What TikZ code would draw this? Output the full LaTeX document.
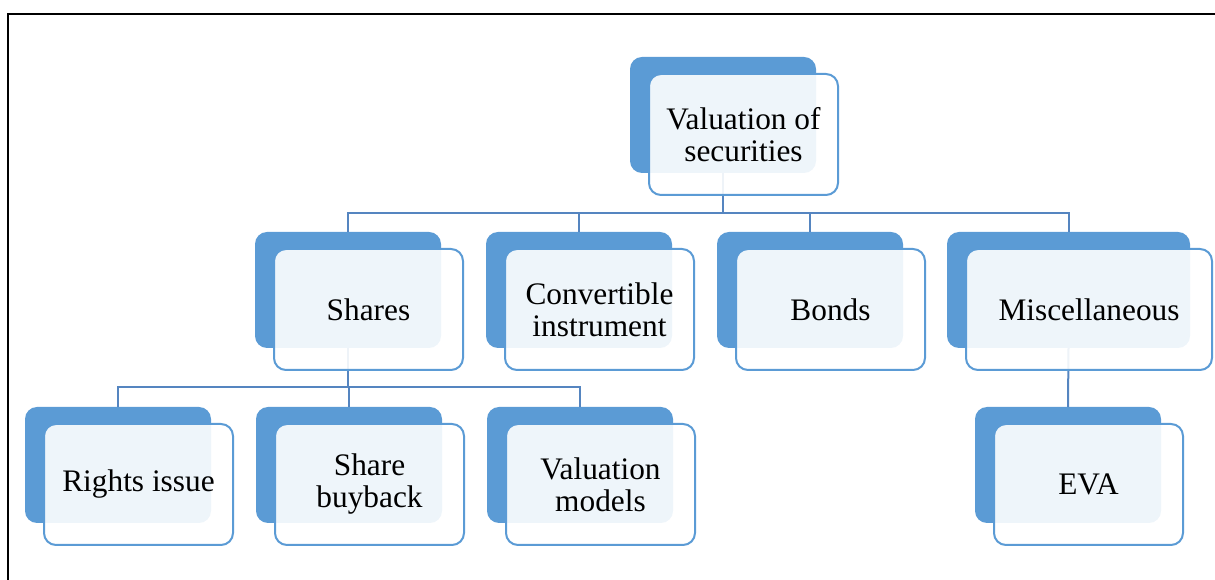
\documentclass[tikz,border=0pt]{standalone}
\usepackage{fontspec}
\setmainfont{Liberation Serif}
\usetikzlibrary{calc}

\definecolor{cardblue}{HTML}{5B9BD5}
\definecolor{linkblue}{HTML}{5585C0}

\tikzset{
  backcard/.style={draw=none, fill=cardblue, rounded corners=12*0.75pt,
    minimum width=#1*0.75pt, minimum height=116*0.75pt, anchor=north west,
    inner sep=0pt, outer sep=0pt},
  backcard/.default=186,
  frontcard/.style={draw=cardblue, line width=1.5pt, fill=white, fill opacity=0.9,
    text opacity=1, rounded corners=12*0.75pt,
    minimum width=#1*0.75pt, minimum height=121*0.75pt, anchor=north west,
    inner sep=0pt, outer sep=0pt, align=center,
    font=\fontsize{23.5}{24}\selectfont},
  frontcard/.default=189,
  conn/.style={draw=linkblue, line width=1.5pt},
  frameline/.style={draw=black, line width=1.5pt}
}

\begin{document}
\begin{tikzpicture}[x=0.75pt, y=-0.75pt]
\useasboundingbox (0,0) rectangle (1215,580);

% frame
\coordinate (fbl) at (7.5,581);
\coordinate (ftl) at (7.5,14);
\coordinate (ftr) at (1216,14);
\draw[frameline] (fbl) -- (ftl) -- (ftr);

% back cards
\node[backcard] (valB) at (630,57) {};
\node[backcard] (sharesB) at (255,232) {};
\node[backcard] (convB) at (486,232) {};
\node[backcard] (bondsB) at (717,232) {};
\node[backcard=243] (miscB) at (947,232) {};
\node[backcard] (rightsB) at (25,407) {};
\node[backcard] (buyB) at (256,407) {};
\node[backcard] (modelsB) at (487,407) {};
\node[backcard] (evaB) at (975,407) {};

% connectors
\draw[conn] (valB.south) -- ++(0,40) -| (sharesB.north);
\draw[conn] (valB.south) -- ++(0,40) -| (convB.north);
\draw[conn] (valB.south) -- ++(0,40) -| (bondsB.north);
\draw[conn] (valB.south) -- ++(0,40) -| (miscB.north);
\draw[conn] (sharesB.south) -- ++(0,39) -| (rightsB.north);
\draw[conn] (sharesB.south) -- ++(0,39) -| (buyB.north);
\draw[conn] (sharesB.south) -- ++(0,39) -| (modelsB.north);
\draw[conn] (miscB.south) -- (evaB.north);

% front cards
\node[frontcard] (val) at ($(valB.north west)+(19,17)$) {Valuation of\\securities};
\node[frontcard] (shares) at ($(sharesB.north west)+(19,17)$) {Shares};
\node[frontcard] (conv) at ($(convB.north west)+(19,17)$) {Convertible\\instrument};
\node[frontcard] (bonds) at ($(bondsB.north west)+(19,17)$) {Bonds};
\node[frontcard=246] (misc) at ($(miscB.north west)+(19,17)$) {Miscellaneous};
\node[frontcard] (rights) at ($(rightsB.north west)+(19,17)$) {Rights issue};
\node[frontcard] (buy) at ($(buyB.north west)+(19,17)$) {Share\\buyback};
\node[frontcard] (models) at ($(modelsB.north west)+(19,17)$) {Valuation\\models};
\node[frontcard] (eva) at ($(evaB.north west)+(19,17)$) {EVA};
\end{tikzpicture}
\end{document}
